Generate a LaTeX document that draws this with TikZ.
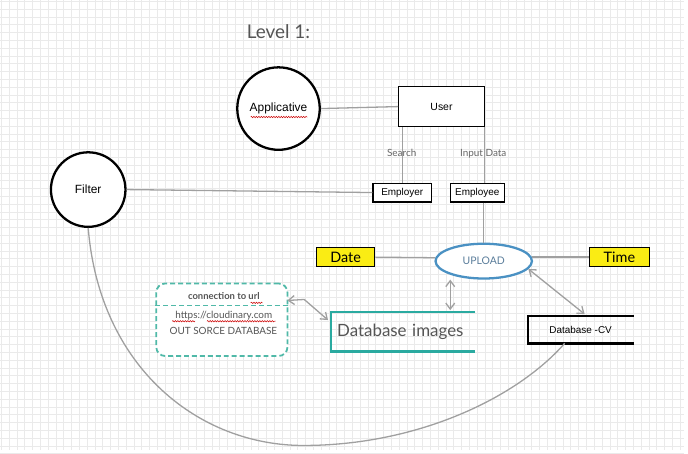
\documentclass[tikz,border=0pt]{standalone}
\usepackage{fontspec}
\setmainfont{Lato}
\newfontfamily\arialf{Liberation Sans}
\usetikzlibrary{arrows.meta,shapes.geometric,calc,decorations.pathmorphing}
\definecolor{gridc}{RGB}{234,234,234}
\definecolor{connc}{RGB}{160,160,160}
\definecolor{teala}{RGB}{42,170,160}
\definecolor{tealb}{RGB}{80,185,168}
\definecolor{uplblue}{RGB}{74,145,195}
\definecolor{upltext}{RGB}{90,125,155}
\definecolor{yel}{RGB}{250,236,20}
\definecolor{txtgray}{RGB}{85,85,85}
\begin{document}
\begin{tikzpicture}[x=1pt,y=-1pt,
  conn/.style={draw=connc, line width=1.3pt},
  dbl/.style={conn, {Straight Barb[length=6pt,width=9pt]}-{Straight Barb[length=6pt,width=9pt]}},
  circ/.style={circle, draw=black, line width=2.3pt, inner sep=0pt, fill=white},
  box/.style={rectangle, draw=black, line width=1.2pt, inner sep=0pt, fill=white},
  ybox/.style={rectangle, draw=black, line width=1pt, inner sep=0pt, fill=yel},
  lbl/.style={inner sep=0pt, text=txtgray},
  squig/.style={draw=red!80!black, line width=0.5pt, decorate, decoration={snake, amplitude=0.7pt, segment length=2.5pt}}
]
% background grid
\fill[white] (0,0) rectangle (688,453);
\foreach \i in {0,...,88} \draw[gridc, line width=0.5pt] ({1+\i*7.85},0) -- ++(0,453);
\foreach \j in {0,...,58} \draw[gridc, line width=0.5pt] (0,{1+\j*7.85}) -- ++(688,0);
\useasboundingbox (0,0) rectangle (688,453);

% title
\node[lbl, font=\fontsize{19}{22}\selectfont] (title) at (280,32) {Level 1:};

% nodes
\node[circ, minimum size=83pt, font=\arialf\fontsize{12}{14}\selectfont] (app) at (280,109) {Applicative};
\node[circ, minimum size=75pt, font=\arialf\fontsize{12}{14}\selectfont] (filter) at (88.5,190.5) {Filter};
\node[box, minimum width=86pt, minimum height=40pt, font=\arialf\fontsize{10.5}{12}\selectfont] (user) at (444,107) {User};
\node[box, minimum width=59pt, minimum height=19pt, font=\arialf\fontsize{10}{12}\selectfont] (employer) at (404.5,193.5) {Employer};
\node[box, minimum width=54pt, minimum height=19pt, font=\arialf\fontsize{10}{12}\selectfont] (employee) at (480,193.5) {Employee};
\node[ellipse, draw=uplblue, line width=2.3pt, fill=white, inner sep=0pt, minimum width=97pt, minimum height=35pt, text=upltext, font=\fontsize{10.5}{12}\selectfont] (upload) at (486.5,262.5) {UPLOAD};
\node[ybox, minimum width=59pt, minimum height=19pt, font=\fontsize{14.5}{16}\selectfont] (date) at (347.5,258.5) {Date};
\node[ybox, minimum width=60pt, minimum height=19pt, font=\fontsize{14.5}{16}\selectfont] (time) at (623,258.5) {Time};

% Database images (open right side)
\node[inner sep=0pt, minimum width=145pt, minimum height=39pt, text width=133pt, align=left, text=txtgray, font=\fontsize{17}{20}\selectfont] (dbimg) at (405.5,333.5) {Database images};
\draw[teala, line width=2.8pt] (dbimg.north east) -- (dbimg.north west) -- (dbimg.south west) -- (dbimg.south east);

% Database -CV (open right side)
\node[inner sep=0pt, minimum width=106pt, minimum height=27pt, font=\arialf\fontsize{10}{12}\selectfont] (dbcv) at (584,331.5) {Database -CV};
\draw[black, line width=2.5pt] (dbcv.north east) -- (dbcv.north west) -- (dbcv.south west) -- (dbcv.south east);

% outsourced database box
\node[draw=tealb, fill=white, line width=1.8pt, dash pattern=on 5pt off 3pt, rounded corners=9pt, minimum width=132pt, minimum height=73pt, inner sep=0pt] (cloud) at (223,321.5) {};
\draw[tealb, line width=1.8pt, dash pattern=on 5pt off 3pt] ($(cloud.north west)+(0,23)$) -- ($(cloud.north east)+(0,23)$);
\node[lbl, font=\bfseries\fontsize{9.5}{11}\selectfont] (curl) at (225,298) {connection to url};
\node[lbl, font=\fontsize{10}{12}\selectfont] (curlb) at (225,317) {https://cloudinary.com};
\node[lbl, font=\fontsize{10}{12}\selectfont] (curlc) at (224.5,333) {OUT SORCE DATABASE};

% spell-check squiggles
\draw[squig] (252,117.5) -- (309,117.5);
\draw[squig] (173,323) -- (196,323);
\draw[squig] (208,323) -- (277,323);
\draw[squig] (252,304.5) -- (264,304.5);

% connectors
\draw[conn] (app.east) -- (user.west);
\draw[conn] (filter.east) -- (employer.west);
\draw[conn] (employer.north) -- (employer.north |- user.south);
\draw[conn] ([xshift=-0.5pt]user.south east) -- ([xshift=-0.5pt]user.south east |- employee.north);
\node[lbl, text=black!60, font=\fontsize{10}{12}\selectfont] (search) at (404,154) {Search};
\node[lbl, text=black!60, font=\fontsize{10}{12}\selectfont] (inputdata) at (486,155) {Input Data};
\draw[conn] (employee.south -| upload.north) -- (upload.north);
\draw[conn] (date.east) -- (upload.176);
\draw[conn] (upload.5) -- (upload.5 -| time.west);

\coordinate (dbtop) at ($(dbimg.north west)+(120,-2)$);
\draw[dbl] (upload.south -| dbtop) -- (dbtop);
\draw[dbl] (upload.-10) -- ([xshift=4pt,yshift=2pt]dbcv.north);
\draw[dbl] ($(cloud.north east)+(-1,18)$) -- ++(17,-1) -- ($(dbimg.north west)+(-3,8)$);

\draw[conn] (filter.south) .. controls (100,370) and (200,448) .. (305,448) .. controls (420,448) and (520,400) .. ([xshift=-16pt]dbcv.south);
\end{tikzpicture}
\end{document}
